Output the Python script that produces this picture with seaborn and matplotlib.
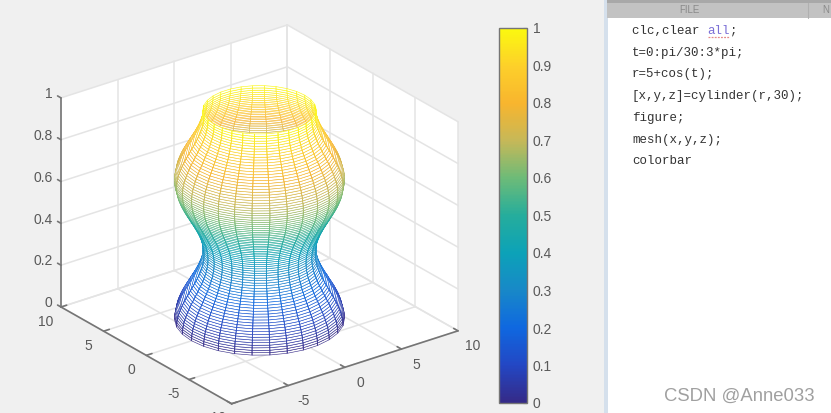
"""
MATLAB mesh(cylinder) vase screenshot, redrawn with seaborn palettes
and matplotlib's 3D axes.
"""

import matplotlib

matplotlib.use("Agg")

import matplotlib.pyplot as plt
import numpy as np
import seaborn as sns
from matplotlib.cm import ScalarMappable
from matplotlib.colors import Normalize
from matplotlib.patches import Rectangle
from mpl_toolkits.mplot3d import proj3d
from mpl_toolkits.mplot3d.art3d import Line3DCollection, Poly3DCollection

WIDTH_PX = 831
HEIGHT_PX = 413
VIEW_ELEV = 25.3
VIEW_AZIM = -127

# Radius of each ring of the vase, bottom to top
RING_RADII = [
    6.00, 5.99, 5.98, 5.95, 5.91, 5.87, 5.81, 5.74, 5.67, 5.59, 5.50,
    5.41, 5.31, 5.21, 5.10, 5.00, 4.90, 4.79, 4.69, 4.59, 4.50,
    4.41, 4.33, 4.26, 4.19, 4.13, 4.09, 4.05, 4.02, 4.01, 4.00,
    4.01, 4.02, 4.05, 4.09, 4.13, 4.19, 4.26, 4.33, 4.41, 4.50,
    4.59, 4.69, 4.79, 4.90, 5.00, 5.10, 5.21, 5.31, 5.41, 5.50,
    5.59, 5.67, 5.74, 5.81, 5.87, 5.91, 5.95, 5.98, 5.99, 6.00,
    5.99, 5.98, 5.95, 5.91, 5.87, 5.81, 5.74, 5.67, 5.59, 5.50,
    5.41, 5.31, 5.21, 5.10, 5.00, 4.90, 4.79, 4.69, 4.59, 4.50,
    4.41, 4.33, 4.26, 4.19, 4.13, 4.09, 4.05, 4.02, 4.01, 4.00,
]
MERIDIANS = 31

XY_TICKS = [-10, -5, 0, 5, 10]
Z_TICKS = [0, 0.2, 0.4, 0.6, 0.8, 1]
Z_LABELS = ["0", "0.2", "0.4", "0.6", "0.8", "1"]
CBAR_TICKS = [0, 0.1, 0.2, 0.3, 0.4, 0.5, 0.6, 0.7, 0.8, 0.9, 1]
CBAR_LABELS = ["0", "0.1", "0.2", "0.3", "0.4", "0.5", "0.6", "0.7", "0.8", "0.9", "1"]

COLOR_STOPS = [
    "#352a87", "#2347c4", "#0f68e0", "#1888c8", "#0ca2b8", "#25ad9c",
    "#6dbb78", "#c6b858", "#f8b52e", "#fdd02a", "#fbf90f",
]

CODE_LINES = [
    "clc,clear ",
    "t=0:pi/30:3*pi;",
    "r=5+cos(t);",
    "[x,y,z]=cylinder(r,30);",
    "figure;",
    "mesh(x,y,z);",
    "colorbar",
]
WATERMARK = "CSDN @Anne033"

AXIS_COLOR = "#757575"
GRID_COLOR = "#e4e4e4"
TEXT_COLOR = "#595959"
CODE_COLOR = "#333333"


def px_rect(left, top, right, bottom):
    """Figure-fraction rectangle from screenshot pixels."""
    return [
        left / WIDTH_PX,
        1 - bottom / HEIGHT_PX,
        (right - left) / WIDTH_PX,
        (bottom - top) / HEIGHT_PX,
    ]


def draw_background(fig):
    """Grey window, editor panel and its text, in pixel coordinates."""
    panel = fig.add_axes([0, 0, 1, 1], zorder=0)
    panel.set_xlim(0, WIDTH_PX)
    panel.set_ylim(HEIGHT_PX, 0)
    panel.axis("off")

    panel.add_patch(Rectangle((0, 0), 606, HEIGHT_PX, color="#f0f0f0", lw=0))
    panel.add_patch(Rectangle((604, 0), 4, HEIGHT_PX, color="#d5e0ec", lw=0))
    panel.add_patch(Rectangle((608, 0), 223, HEIGHT_PX, color="#ffffff", lw=0))
    panel.add_patch(Rectangle((607, 0), 224, 18, color="#c2c2c2", lw=0))
    panel.add_patch(Rectangle((607, 0), 224, 3, color="#a8a8a8", lw=0))
    panel.plot([808, 808], [3, 18], color="#b0b0b0", lw=0.8)

    panel.text(689, 10, "FILE", color="#8a8a8a", fontsize=7, ha="center", va="center")
    panel.text(826, 10, "N", color="#8a8a8a", fontsize=7, ha="center", va="center")

    for index, line in enumerate(CODE_LINES):
        panel.text(
            632, 31 + index * 21.7, line,
            family="Liberation Mono", fontsize=9, color=CODE_COLOR,
            ha="left", va="center",
        )

    # Spell-checked word on the first line
    panel.text(
        707, 31, "all", family="Liberation Mono", fontsize=9,
        color="#7b6fd6", ha="left", va="center",
    )
    panel.text(
        730, 31, ";", family="Liberation Mono", fontsize=9,
        color=CODE_COLOR, ha="left", va="center",
    )
    panel.plot([708, 729], [36.5, 36.5], color="#e58a8a", lw=0.9, ls=(0, (1.5, 1)))

    panel.text(
        815, 396, WATERMARK, color="#a0a0a0", fontsize=13.3,
        ha="right", va="center",
    )


def project_to_display(ax, points):
    """Project 3D points to display pixels (origin bottom-left)."""
    x2, y2, _ = proj3d.proj_transform(
        *np.array(points, dtype=float).T, ax.get_proj()
    )
    return ax.transData.transform(np.column_stack([x2, y2]))


def fit_axes_to_box(fig, ax):
    """Move the square 3D axes so the box lands on the screenshot's corners."""
    target_width = 397
    left_corner = (61, HEIGHT_PX - 307)

    fig.canvas.draw()
    display = project_to_display(ax, [(-10, 10, 0), (10, -10, 0)])
    box = ax.get_position()
    size = box.width * WIDTH_PX
    center = np.array([(box.x0 + box.width / 2) * WIDTH_PX, (box.y0 + box.height / 2) * HEIGHT_PX])

    scale = target_width / (display[1, 0] - display[0, 0])
    new_center = np.array(left_corner) - scale * (display[0] - center)
    new_size = size * scale
    ax.set_position([
        (new_center[0] - new_size / 2) / WIDTH_PX,
        (new_center[1] - new_size / 2) / HEIGHT_PX,
        new_size / WIDTH_PX,
        new_size / HEIGHT_PX,
    ])
    fig.canvas.draw()


def draw_box(ax):
    """White walls, grid and axis lines of the 3D box."""
    walls = [
        [(-10, -10, 0), (10, -10, 0), (10, 10, 0), (-10, 10, 0)],
        [(-10, 10, 0), (10, 10, 0), (10, 10, 1), (-10, 10, 1)],
        [(10, 10, 0), (10, -10, 0), (10, -10, 1), (10, 10, 1)],
    ]
    ax.add_collection3d(Poly3DCollection(walls, facecolor="white", edgecolor="none", zorder=1))

    grid = {"color": GRID_COLOR, "lw": 1.1, "zorder": 2}
    for tick in XY_TICKS:
        ax.plot([tick, tick], [-10, 10], [0, 0], **grid)
        ax.plot([-10, 10], [tick, tick], [0, 0], **grid)
        ax.plot([tick, tick], [10, 10], [0, 1], **grid)
        ax.plot([10, 10], [tick, tick], [0, 1], **grid)
    for tick in Z_TICKS:
        ax.plot([-10, 10], [10, 10], [tick, tick], **grid)
        ax.plot([10, 10], [-10, 10], [tick, tick], **grid)

    axis = {"color": AXIS_COLOR, "lw": 1.2, "zorder": 2.5}
    ax.plot([-10, -10], [10, 10], [0, 1], **axis)
    ax.plot([-10, -10], [10, -10], [0, 0], **axis)
    ax.plot([-10, 10], [-10, -10], [0, 0], **axis)

    for tick in XY_TICKS:
        ax.plot([tick, tick], [-10, -9.5], [0, 0], **axis)
        ax.plot([-10, -9.5], [tick, tick], [0, 0], **axis)
    for tick in Z_TICKS:
        ax.plot([-10, -10], [10, 10.4], [tick, tick], **axis)


def label_box(fig, ax):
    """Tick labels as figure text at the projected tick positions."""
    label = {
        "family": "Liberation Sans", "fontsize": 10, "color": TEXT_COLOR,
        "va": "center", "zorder": 5,
    }

    def put(point, text, ha):
        x_px, y_px = project_to_display(ax, [point])[0]
        fig.text(x_px / WIDTH_PX, y_px / HEIGHT_PX, text, ha=ha, **label)

    for tick, text in zip(Z_TICKS, Z_LABELS):
        put((-10, 11, tick - 0.005), text, "right")
    for tick in XY_TICKS:
        put((-12.3, tick - 1.3, 0), str(tick), "center")
        if tick > -10:
            put((tick - 0.7, -12.7, 0), str(tick), "center")


def draw_vase(ax, cmap):
    """Hidden-line mesh: white faces with edges coloured by height."""
    radii = np.array(RING_RADII)
    heights = np.linspace(0, 1, len(radii))
    angles = np.linspace(0, 2 * np.pi, MERIDIANS)

    x_grid = np.outer(radii, np.cos(angles))
    y_grid = np.outer(radii, np.sin(angles))
    z_grid = np.outer(heights, np.ones(MERIDIANS))

    faces = np.ones(z_grid.shape + (4,))
    surface = ax.plot_surface(
        x_grid, y_grid, z_grid,
        rstride=1, cstride=1, facecolors=faces, shade=False,
        linewidth=0.42, antialiased=True, zorder=3,
    )
    surface.set_edgecolor(cmap(z_grid[:-1, :-1].ravel()))

    # Meridians facing the viewer read a little stronger than the rings
    segments = []
    seg_colors = []
    for column, angle in enumerate(angles[:-1]):
        if np.cos(angle - np.radians(VIEW_AZIM)) <= 0.02:
            continue
        points = np.column_stack([x_grid[:, column], y_grid[:, column], z_grid[:, column]])
        segments.extend(np.stack([points[:-1], points[1:]], axis=1))
        seg_colors.extend(cmap(heights[:-1]))
    soft = np.array(seg_colors)
    soft[:, 3] = 0.65
    ax.add_collection3d(Line3DCollection(segments, colors=soft, linewidths=0.7, zorder=4))


def draw_colorbar(fig, cmap):
    """Colour bar on the right of the box."""
    cax = fig.add_axes(px_rect(499, 28, 527, 403), zorder=3)
    bar = fig.colorbar(ScalarMappable(norm=Normalize(0, 1), cmap=cmap), cax=cax)
    bar.outline.set_edgecolor(AXIS_COLOR)
    bar.outline.set_linewidth(1.0)
    bar.set_ticks(CBAR_TICKS, labels=CBAR_LABELS)
    cax.tick_params(
        direction="in", length=3, width=0.8, color="#555555",
        pad=4, labelsize=10, labelcolor=TEXT_COLOR,
    )
    for text in cax.get_yticklabels():
        text.set_family("Liberation Sans")


def main():
    sns.set_theme(style="white")
    plt.rcParams["font.family"] = ["Liberation Sans", "DejaVu Sans"]

    cmap = sns.blend_palette(COLOR_STOPS, n_colors=256, as_cmap=True)

    fig = plt.figure(figsize=(WIDTH_PX / 100, HEIGHT_PX / 100), dpi=100)
    draw_background(fig)

    ax = fig.add_axes([0.05, 0.05, HEIGHT_PX * 0.9 / WIDTH_PX, 0.9], projection="3d", zorder=2)
    ax.set_proj_type("ortho")
    ax.view_init(elev=VIEW_ELEV, azim=VIEW_AZIM)
    ax.set_box_aspect((1, 1, 0.816))
    ax.set_xlim(-10, 10)
    ax.set_ylim(-10, 10)
    ax.set_zlim(0, 1)
    ax.computed_zorder = False
    ax.patch.set_alpha(0)
    ax.set_axis_off()

    draw_box(ax)
    draw_vase(ax, cmap)
    draw_colorbar(fig, cmap)
    fit_axes_to_box(fig, ax)
    label_box(fig, ax)

    fig.savefig("out.png", dpi=100)


if __name__ == "__main__":
    main()
